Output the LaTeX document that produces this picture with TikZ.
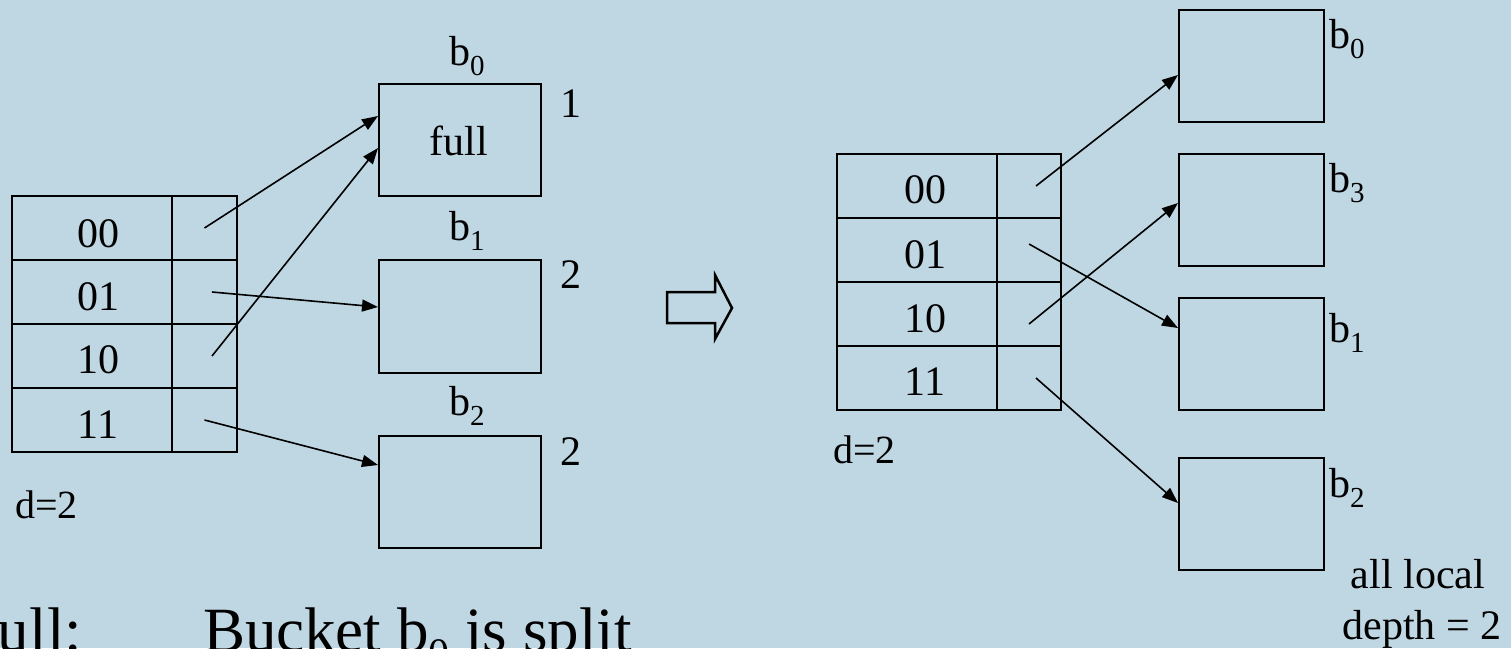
\documentclass[tikz,border=0pt]{standalone}
\usepackage{fontspec}
\setmainfont{Liberation Serif}
\usetikzlibrary{arrows.meta,calc}
\definecolor{bg}{RGB}{191,215,227}
\newcommand{\bsub}[1]{b\raisebox{-10pt}{\fontsize{29}{29}\selectfont #1}}
\begin{document}
\begin{tikzpicture}[x=1pt,y=-1pt,line width=2pt,
  bucket/.style={draw,inner sep=0pt,anchor=north west,minimum height=112pt},
  lbucket/.style={bucket,minimum width=162pt},
  rbucket/.style={bucket,minimum width=145pt},
  keycell/.style={draw,inner sep=0pt,anchor=north west,minimum height=64pt,minimum width=160pt},
  ptrcell/.style={draw,inner sep=0pt,anchor=north west,minimum height=64pt,minimum width=64pt},
  txt/.style={font=\fontsize{42}{42}\selectfont,anchor=base,inner sep=0pt},
  small/.style={font=\fontsize{40}{40}\selectfont,anchor=base west,inner sep=0pt},
  big/.style={font=\fontsize{63}{63}\selectfont,anchor=base west,inner sep=0pt},
  ptr/.style={-{Triangle[length=16pt,width=12pt]},line width=1.6pt}]
\fill[bg] (0,0) rectangle (1511,648);
\useasboundingbox (0,0) rectangle (1511,648);
\begin{scope}
\clip (0,0) rectangle (1511,648);
% ---------- left table ----------
\foreach \i in {0,1,2,3}{
  \node[keycell] (lk\i) at (11,{195+64*\i}) {};
  \node[ptrcell,minimum width=65pt] (lp\i) at (171,{195+64*\i}) {};
}
\node[txt] (lt0) at (98,247) {00};
\node[txt] (lt1) at (98,310) {01};
\node[txt] (lt2) at (98,373) {10};
\node[txt] (lt3) at (98,438) {11};
\node[small] (ld) at (14,518) {d=2};
% ---------- left buckets ----------
\node[lbucket] (lb0) at (378,83) {};
\node[lbucket,minimum height=113pt] (lb1) at (378,259) {};
\node[lbucket] (lb2) at (378,435) {};
\node[txt] (full) at (459,155) {full};
\node[txt,anchor=base west] (lb0l) at (448,65) {\bsub{0}};
\node[txt,anchor=base west] (lb1l) at (448,240) {\bsub{1}};
\node[txt,anchor=base west] (lb2l) at (448,415) {\bsub{2}};
\node[txt] (ld0) at (571,117) {1};
\node[txt] (ld1) at (571,288) {2};
\node[txt] (ld2) at (571,465) {2};
% left pointers
\draw[ptr] (lp0.center) -- ([yshift=-33pt]lb0.north west);
\draw[ptr] ([xshift=7.5pt]lp2.center) -- ([yshift=-65pt]lb0.north west);
\draw[ptr] ([xshift=7.5pt]lp1.center) -- ([yshift=-48pt]lb1.north west);
\draw[ptr] (lp3.center) -- ([yshift=-30pt]lb2.north west);
% ---------- block arrow ----------
\draw[line width=2.5pt,line join=miter] (667,292) -- (715,292) -- (715,275) -- (732,308)
  -- (715,339) -- (715,323) -- (667,323) -- cycle;
% ---------- right table ----------
\foreach \i in {0,1,2,3}{
  \node[keycell] (rk\i) at (836,{153+64*\i}) {};
  \node[ptrcell] (rp\i) at (996,{153+64*\i}) {};
}
\node[txt] (rt0) at (925,203) {00};
\node[txt] (rt1) at (925,268) {01};
\node[txt] (rt2) at (925,332) {10};
\node[txt] (rt3) at (925,395) {11};
\node[small] (rd) at (832,463) {d=2};
% ---------- right buckets ----------
\node[rbucket] (rb0) at (1178,9) {};
\node[rbucket] (rb3) at (1178,153) {};
\node[rbucket] (rb1) at (1178,297) {};
\node[rbucket] (rb2) at (1178,457) {};
\node[txt,anchor=base west] (rb0l) at (1328,48) {\bsub{0}};
\node[txt,anchor=base west] (rb3l) at (1328,192) {\bsub{3}};
\node[txt,anchor=base west] (rb1l) at (1328,342) {\bsub{1}};
\node[txt,anchor=base west] (rb2l) at (1328,497) {\bsub{2}};
\node[txt] (all) at (1418,588) {all local};
\node[txt] (dep) at (1422,639) {depth = 2};
% right pointers
\draw[ptr] ([xshift=7pt]rp0.center) -- ([yshift=-66pt]rb0.north west);
\draw[ptr] ([yshift=6pt]rp1.center) -- ([yshift=-31pt]rb1.north west);
\draw[ptr] ([yshift=-10pt]rp2.center) -- ([yshift=-50pt]rb3.north west);
\draw[ptr] ([xshift=7pt]rp3.center) -- ([yshift=-46pt]rb2.north west);
% ---------- bottom text (cut off by the frame) ----------
\node[big] (ull) at (-3,651) {ull:};
\node[big] (buck) at (202,651)
  {Bucket b\raisebox{-16pt}{\fontsize{42}{42}\selectfont 0} is split};
\end{scope}
\end{tikzpicture}
\end{document}
